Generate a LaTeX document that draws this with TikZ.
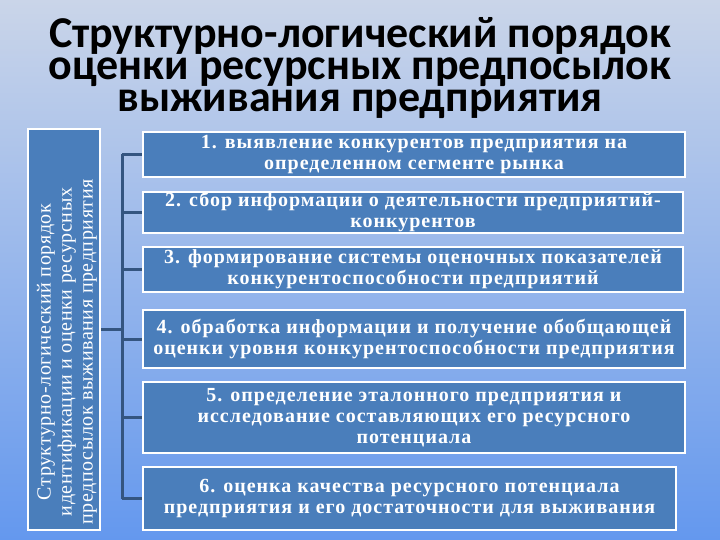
\documentclass[tikz,border=0pt]{standalone}
\usepackage{fontspec}
\setmainfont{Liberation Serif}
\newfontfamily\titlefont{Carlito}
\usetikzlibrary{calc}
\definecolor{boxblue}{RGB}{74,126,187}
\definecolor{linkblue}{RGB}{52,85,128}
\definecolor{bgtop}{RGB}{202,213,233}
\definecolor{bgmid}{RGB}{240,224,242}
\definecolor{bgbot}{RGB}{100,152,238}
\tikzset{
  x=1pt,y=-1pt,
  stepbox/.style={draw=white,line width=2.5pt,fill=boxblue,text=white,
    align=center,inner sep=0pt,
    font=\fontsize{20}{21}\selectfont\bfseries\addfontfeatures{LetterSpace=5}},
  sidebox/.style={draw=white,line width=2.5pt,fill=boxblue,text=white,
    align=center,inner sep=0pt},
  link/.style={draw=linkblue,line width=3pt},
}
\begin{document}
\begin{tikzpicture}
\useasboundingbox (0,0) rectangle (720,540);
\shade[top color=bgtop,middle color=bgmid,bottom color=bgbot] (0,0) rectangle (720,540);
\node[font=\titlefont\bfseries\fontsize{44}{32}\selectfont,align=center] (title) at (360,68)
  {Структурно-логический порядок\\оценки ресурсных предпосылок\\выживания предприятия};
\node[sidebox,minimum width=72pt,minimum height=401pt] (side) at (64,329.5) {};
\node[text=white,rotate=90,align=center,
  font=\fontsize{20}{21}\selectfont\addfontfeatures{LetterSpace=3}] (sidetext) at (67,352)
  {Структурно-логический порядок\\идентификации и оценки ресурсных\\предпосылок выживания предприятия};
\node[stepbox,minimum width=542pt,minimum height=45pt] (b1) at (414,154.5)
  {1. выявление конкурентов предприятия на\\определенном сегменте рынка};
\node[stepbox,minimum width=540pt,minimum height=41pt] (b2) at (413,212.5)
  {2. сбор информации о деятельности предприятий-\\конкурентов};
\node[stepbox,minimum width=540pt,minimum height=45pt] (b3) at (413,269.5)
  {3. формирование системы оценочных показателей\\конкурентоспособности предприятий};
\node[stepbox,minimum width=542pt,minimum height=58pt] (b4) at (414,339)
  {4. обработка информации и получение обобщающей\\оценки уровня конкурентоспособности предприятия};
\node[stepbox,minimum width=542pt,minimum height=71pt] (b5) at (414,417.5)
  {5. определение эталонного предприятия и\\исследование составляющих его ресурсного\\потенциала};
\node[stepbox,minimum width=533pt,minimum height=63pt] (b6) at (409.5,498.5)
  {6. оценка качества ресурсного потенциала\\предприятия и его достаточности для выживания};
\coordinate (bt) at (122,154.5);
\coordinate (bb) at (122,498.5);
\draw[link] (bt) -- (bb);
\foreach \b in {b1,b2,b3,b4,b5,b6}{\draw[link] (\b.west) -- (\b.west -| bt);}
\draw[link] (side.east) -- (side.east -| bt);
\end{tikzpicture}
\end{document}
